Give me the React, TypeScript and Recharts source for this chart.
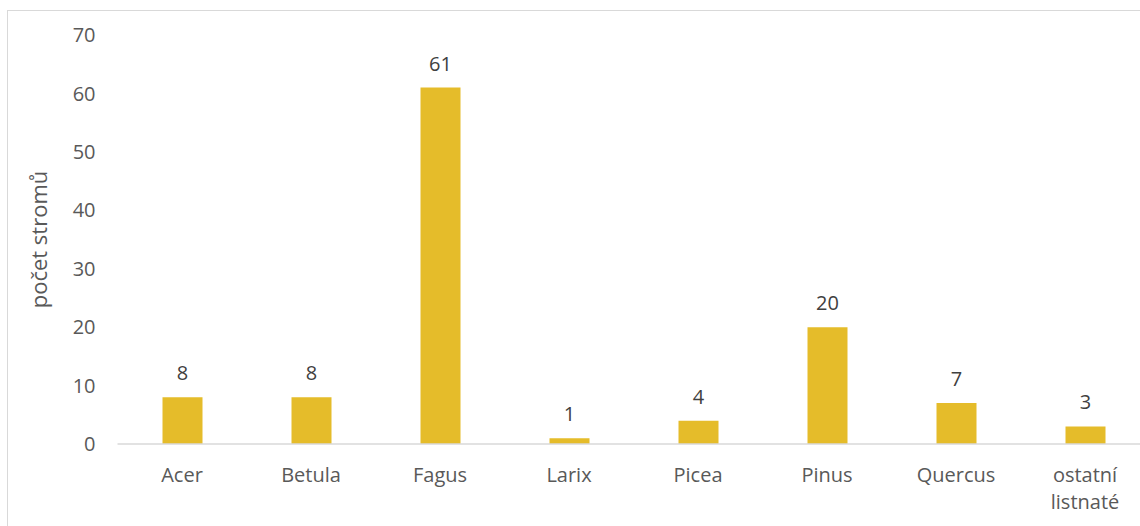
import React from "react";
import { BarChart, Bar, XAxis, YAxis, LabelList } from "recharts";

const categories = ["Acer", "Betula", "Fagus", "Larix", "Picea", "Pinus", "Quercus", "ostatní listnaté"];
const counts = [8, 8, 61, 1, 4, 20, 7, 3];
const yTicks = [0, 10, 20, 30, 40, 50, 60, 70];
const yLabel = "počet stromů";

const data = categories.map((c, i) => ({ name: c, value: counts[i] }));

const FONT = "'Open Sans', sans-serif";

const XTick = (props: any) => {
  const { x, y, payload } = props;
  const words: string[] = String(payload.value).split(" ");
  return (
    <text x={x} y={y} textAnchor="middle" fill="#595959" fontSize={20} fontFamily={FONT}>
      {words.map((w, i) => (
        <tspan key={i} x={x} dy={i === 0 ? 38 : 27}>
          {w}
        </tspan>
      ))}
    </text>
  );
};

export default function App() {
  return (
    <div style={{ position: "absolute", left: 0, top: 0, width: 1140, height: 526, overflow: "hidden", background: "#fff" }}>
      <div
        style={{
          position: "absolute",
          left: 7,
          top: 10,
          width: 1160,
          height: 560,
          border: "1px solid #d9d9d9",
          boxSizing: "border-box",
        }}
      />
      <div style={{ position: "absolute", left: 0, top: 0 }}>
        <BarChart
          width={1160}
          height={526}
          data={data}
          margin={{ top: 35, right: 10.5, bottom: 22, left: 0 }}
        >
          <XAxis
            dataKey="name"
            axisLine={{ stroke: "#d9d9d9", strokeWidth: 1.5 }}
            tickLine={false}
            tickSize={0}
            tickMargin={0}
            height={60}
            tick={<XTick />}
            interval={0}
          />
          <YAxis
            width={117.5}
            domain={[0, 70]}
            ticks={yTicks}
            axisLine={false}
            tickLine={false}
            tickSize={0}
            tickMargin={22}
            tick={{ fill: "#595959", fontSize: 20, fontFamily: FONT }}
            label={{
              value: yLabel,
              angle: -90,
              position: "center",
              dx: -20,
              fill: "#595959",
              fontSize: 22,
              fontFamily: FONT,
            }}
          />
          <Bar dataKey="value" fill="#E5BC2A" barSize={40} isAnimationActive={false}>
            <LabelList
              dataKey="value"
              position="top"
              offset={17}
              fill="#404040"
              fontSize={20}
              fontFamily={FONT}
            />
          </Bar>
        </BarChart>
      </div>
    </div>
  );
}
